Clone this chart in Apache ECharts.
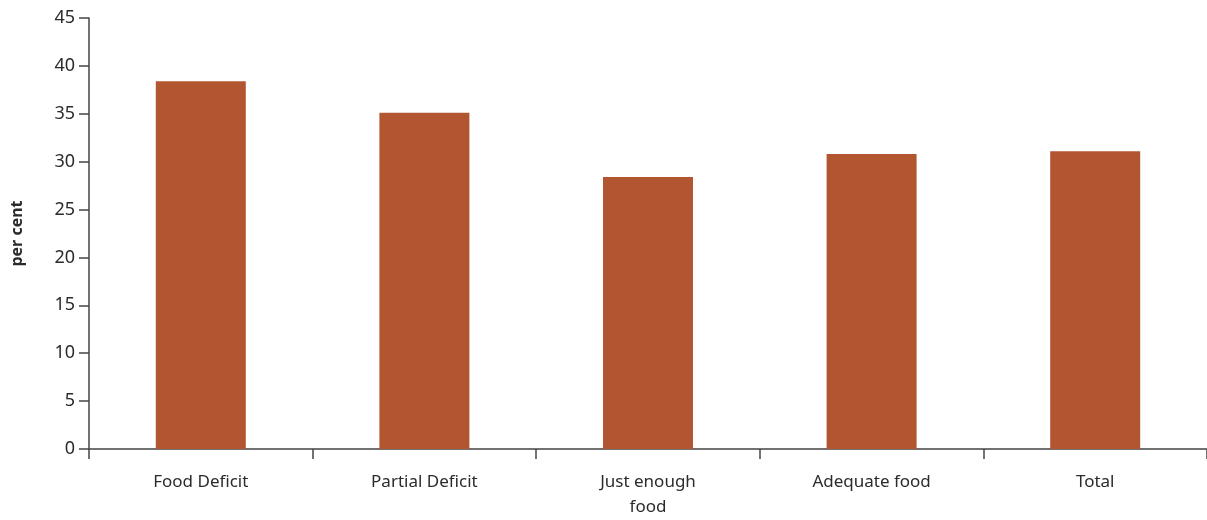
<!DOCTYPE html>
<html>
<head>
<meta charset="utf-8">
<script src="https://cdn.jsdelivr.net/npm/echarts@6/dist/echarts.min.js"></script>
<style>
  html, body { margin: 0; padding: 0; background: #fff; }
  #chart { width: 1207px; height: 520px; }
</style>
</head>
<body>
<div id="chart"></div>
<script>
// Share of respondents (per cent) by food-sufficiency group
const categories = ['Food Deficit', 'Partial Deficit', 'Just enough\nfood', 'Adequate food', 'Total'];
const values = [38.4, 35.1, 28.4, 30.8, 31.1];
const yTicks = { min: 0, max: 45, interval: 5 };

const chart = echarts.init(document.getElementById('chart'));
const textColor = '#2b2b2b';
const axisColor = '#444';
const font = '"Noto Sans", "Open Sans", sans-serif';

chart.setOption({
  animation: false,
  grid: { left: 89, right: -2, top: 18, bottom: 67, containLabel: false },
  xAxis: {
    type: 'category',
    data: categories,
    axisLine: { lineStyle: { color: axisColor, width: 1.5 } },
    axisTick: { show: true, length: 10, lineStyle: { color: axisColor, width: 1.5 } },
    axisLabel: { color: textColor, fontSize: 17, fontFamily: font, margin: 21, lineHeight: 25 }
  },
  yAxis: {
    type: 'value',
    min: yTicks.min, max: yTicks.max, interval: yTicks.interval,
    name: 'per cent',
    nameLocation: 'middle',
    nameGap: 64,
    nameTextStyle: { color: textColor, fontSize: 16, fontWeight: 'bold', fontFamily: font },
    axisLine: { show: true, lineStyle: { color: axisColor, width: 1.5 } },
    axisTick: { show: true, length: 10, lineStyle: { color: axisColor, width: 1.5 } },
    axisLabel: { color: textColor, fontSize: 18, fontFamily: font, margin: 14 },
    splitLine: { show: false }
  },
  series: [{
    type: 'bar',
    data: values,
    barWidth: 90,
    itemStyle: { color: '#B25631' }
  }]
});
</script>
</body>
</html>
